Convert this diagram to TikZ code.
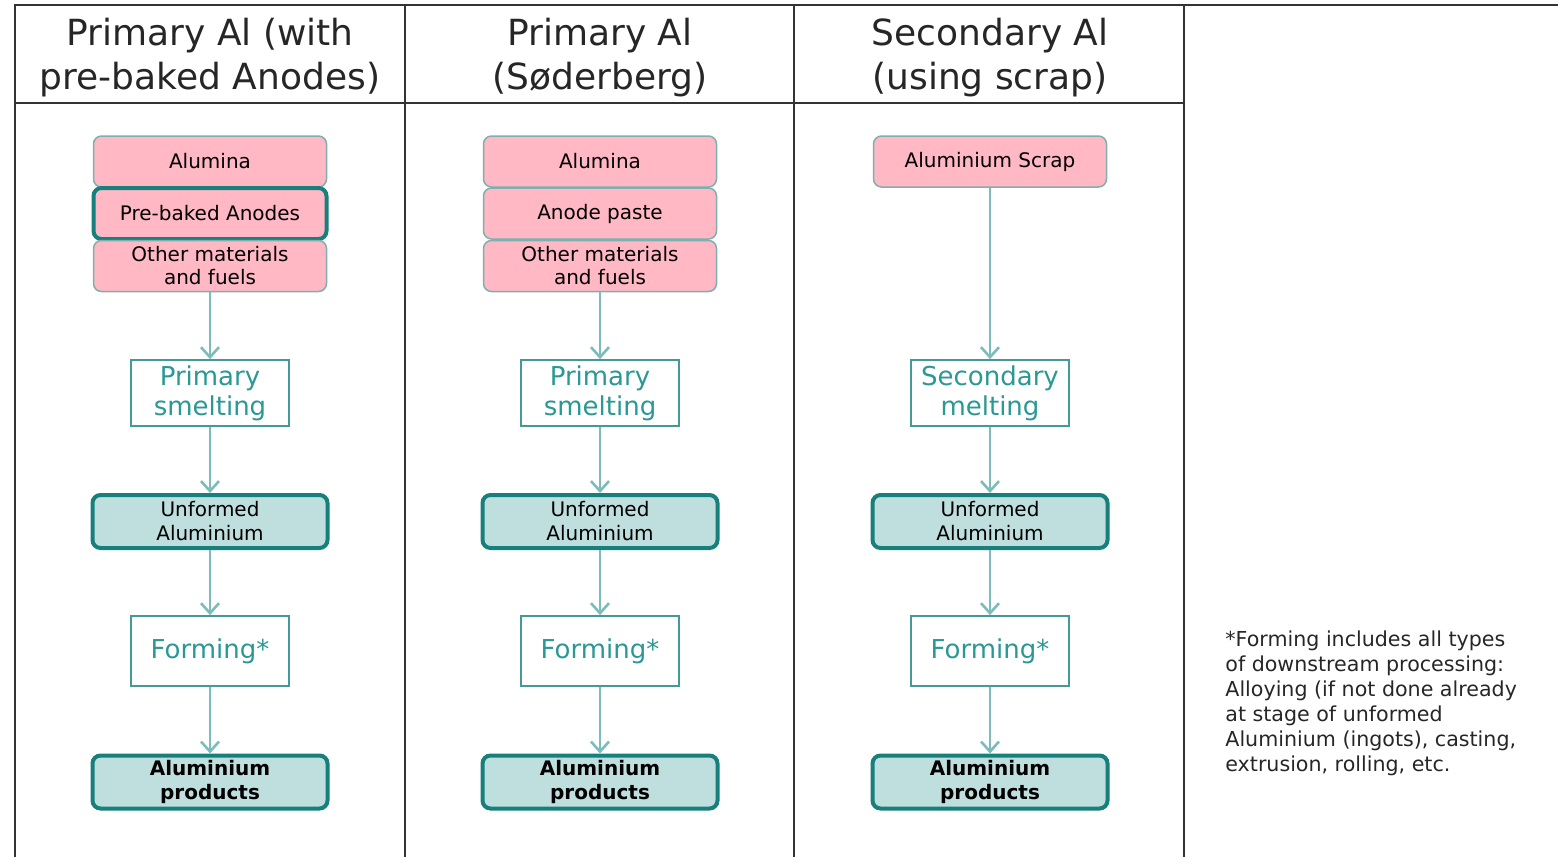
\documentclass[tikz,border=0pt]{standalone}
\usepackage{fontspec}
\setmainfont{DejaVu Sans}
\usetikzlibrary{arrows.meta}
\definecolor{pinkfill}{HTML}{FFB8C4}
\definecolor{pinkline}{HTML}{7FB0B0}
\definecolor{tealdark}{HTML}{17807C}
\definecolor{teallight}{HTML}{BEDFDE}
\definecolor{tealtext}{HTML}{2A9894}
\definecolor{arrowcol}{HTML}{7CBDBB}
\definecolor{gridcol}{HTML}{333333}
\tikzset{
  input/.style={draw=pinkline, line width=0.75pt, fill=pinkfill, rounded corners=4pt,
    minimum width=116.5pt, minimum height=25.5pt, align=center, font=\fontsize{10}{11.5}\selectfont,
    inner sep=0pt},
  keyinput/.style={input, draw=tealdark, line width=2pt},
  process/.style={draw=tealdark!80, line width=0.9pt, fill=white, minimum width=79pt,
    minimum height=33pt, align=center, text=tealtext, font=\fontsize{13}{15}\selectfont, inner sep=0pt},
  product/.style={draw=tealdark, line width=2pt, fill=teallight, rounded corners=4pt,
    minimum width=117.5pt, minimum height=26.5pt, align=center, font=\fontsize{10}{12}\selectfont,
    inner sep=0pt},
  flow/.style={draw=arrowcol, line width=1.4pt, -{Straight Barb[length=5pt,width=9pt,line width=1.3pt]}},
  grid/.style={draw=gridcol, line width=1pt},
  heading/.style={align=center, font=\fontsize{18}{22}\selectfont, text=black!85}
}
\begin{document}
\begin{tikzpicture}[x=0.5pt,y=-0.5pt]
  \useasboundingbox (0,0) rectangle (1558,857);
  % table
  \draw[grid] (15,857) -- (15,5) -- (1558,5);
  \draw[grid] (15,103) -- (1184,103);
  \draw[grid] (405,5) -- (405,857);
  \draw[grid] (794,5) -- (794,857);
  \draw[grid] (1184,5) -- (1184,857);
  \node[heading] (heada) at (210,58) {Primary Al (with\\pre-baked Anodes)};
  \node[heading] (headb) at (600,58) {Primary Al\\(Søderberg)};
  \node[heading] (headc) at (990,58) {Secondary Al\\(using scrap)};
  % inputs
  \node[input] (alua) at (210,161.5) {Alumina};
  \node[keyinput] (anoda) at (210,213.5) {Pre-baked Anodes};
  \node[input] (otha) at (210,266) {Other materials\\and fuels};
  \node[input] (alub) at (600,161.5) {Alumina};
  \node[input] (anodb) at (600,213.5) {Anode paste};
  \node[input] (othb) at (600,266) {Other materials\\and fuels};
  \node[input] (othc) at (990,161.5) {Aluminium Scrap};
  % lower chain, same in every column
  \foreach \c/\x/\proc in {a/210/{Primary\\smelting},b/600/{Primary\\smelting},c/990/{Secondary\\melting}}{
    \node[process] (smelt\c) at (\x,393) {\proc};
    \node[product] (unf\c) at (\x,521.5) {Unformed\\Aluminium};
    \node[process, minimum height=35pt] (form\c) at (\x,651) {Forming*};
    \node[product, font=\fontsize{10}{12}\selectfont\bfseries] (prod\c) at (\x,782) {Aluminium\\products};
    \draw[flow] (oth\c) -- (smelt\c);
    \draw[flow] (smelt\c) -- (unf\c);
    \draw[flow] (unf\c) -- (form\c);
    \draw[flow] (form\c) -- (prod\c);
  }
  % footnote
  \node[anchor=north west, align=left, inner sep=0pt, font=\fontsize{10.3}{12.5}\selectfont, text=black!85]
    (note) at (1225,630) {*Forming includes all types\\of downstream processing:\\Alloying (if not done already\\at stage of unformed\\Aluminium (ingots), casting,\\extrusion, rolling, etc.};
\end{tikzpicture}
\end{document}
